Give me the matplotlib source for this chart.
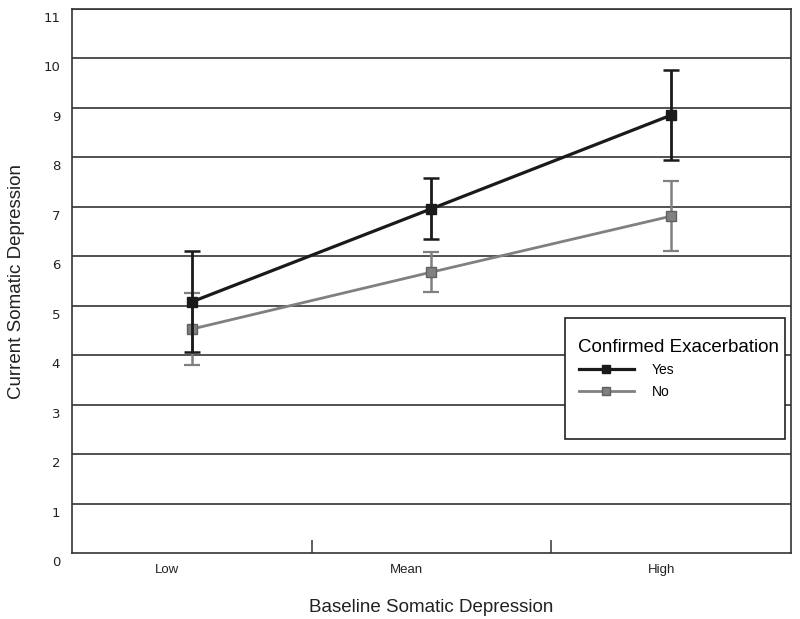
import matplotlib.pyplot as plt
from matplotlib.lines import Line2D
from matplotlib.patches import Rectangle
from matplotlib.transforms import ScaledTranslation

# values
categories = ['Low', 'Mean', 'High']
yes_means = [5.08, 6.96, 8.85]
yes_err = [1.02, 0.62, 0.91]
no_means = [4.53, 5.68, 6.81]
no_err = [0.72, 0.40, 0.71]
y_ticks = list(range(0, 12))
series_names = ['Yes', 'No']

plt.rcParams['font.family'] = ['Liberation Sans', 'DejaVu Sans']

fig = plt.figure(figsize=(8, 6.19), dpi=100)
ax = fig.add_axes([0.09, 0.1061, 0.8984, 0.8797])

x = list(range(len(categories)))

for yv in y_ticks[1:]:
    ax.axhline(yv, color='#333333', lw=1.2, zorder=1)

ax.errorbar(x, no_means, yerr=no_err, color='#808080', lw=2, marker='s', ms=7,
            mec='#606060', mfc='#808080', capsize=6, capthick=1.6, elinewidth=1.8,
            zorder=3)
ax.errorbar(x, yes_means, yerr=yes_err, color='#1a1a1a', lw=2.3, marker='s', ms=7,
            capsize=6, capthick=1.8, elinewidth=2, zorder=4)

ax.set_xlim(-0.5, 2.5)
ax.set_ylim(0, 11)

ax.set_yticks(y_ticks)
ax.set_yticklabels([str(v) for v in y_ticks], family='DejaVu Sans', fontsize=9.5, color='#222222')
ax.tick_params(axis='y', length=0, pad=8.5)
shift_down = ScaledTranslation(0, -8 / 100, fig.dpi_scale_trans)
for lab in ax.get_yticklabels():
    lab.set_transform(lab.get_transform() + shift_down)

ax.set_xticks(x)
ax.set_xticklabels(categories, fontsize=9.5, color='#222222')
ax.tick_params(axis='x', which='major', length=0, pad=8)
for lab, dx in zip(ax.get_xticklabels(), [-25, -25, -9]):
    lab.set_transform(lab.get_transform() + ScaledTranslation(dx / 100, 0, fig.dpi_scale_trans))
ax.set_xticks([0.5, 1.5], minor=True)
ax.tick_params(axis='x', which='minor', direction='in', length=9.5, width=1.2, color='#444444')

for s in ax.spines.values():
    s.set_color('#333333')
    s.set_linewidth(1.2)

ax.set_ylabel('Current Somatic Depression', fontsize=13.5, color='#222222', labelpad=13)
ax.set_xlabel('Baseline Somatic Depression', fontsize=13.5, color='#222222', labelpad=16)

# legend box
fig.patches.append(Rectangle((565 / 800, 1 - 439 / 619), 220 / 800, 121 / 619,
                             transform=fig.transFigure, fill=True, fc='white',
                             ec='#222222', lw=1.2, zorder=5))
handles = [
    Line2D([], [], color='#1a1a1a', lw=2.3, marker='s', ms=6),
    Line2D([], [], color='#808080', lw=2, marker='s', ms=6, mec='#606060'),
]
leg = fig.legend(handles, series_names, title='Confirmed Exacerbation',
                 loc='upper left', bbox_to_anchor=(566 / 800, 1 - 326 / 619),
                 frameon=False, fontsize=10, title_fontsize=13.5,
                 handlelength=4, handletextpad=1.3, labelspacing=0.55,
                 alignment='left')
leg.set_zorder(6)

fig.savefig('out.png', dpi=100)
